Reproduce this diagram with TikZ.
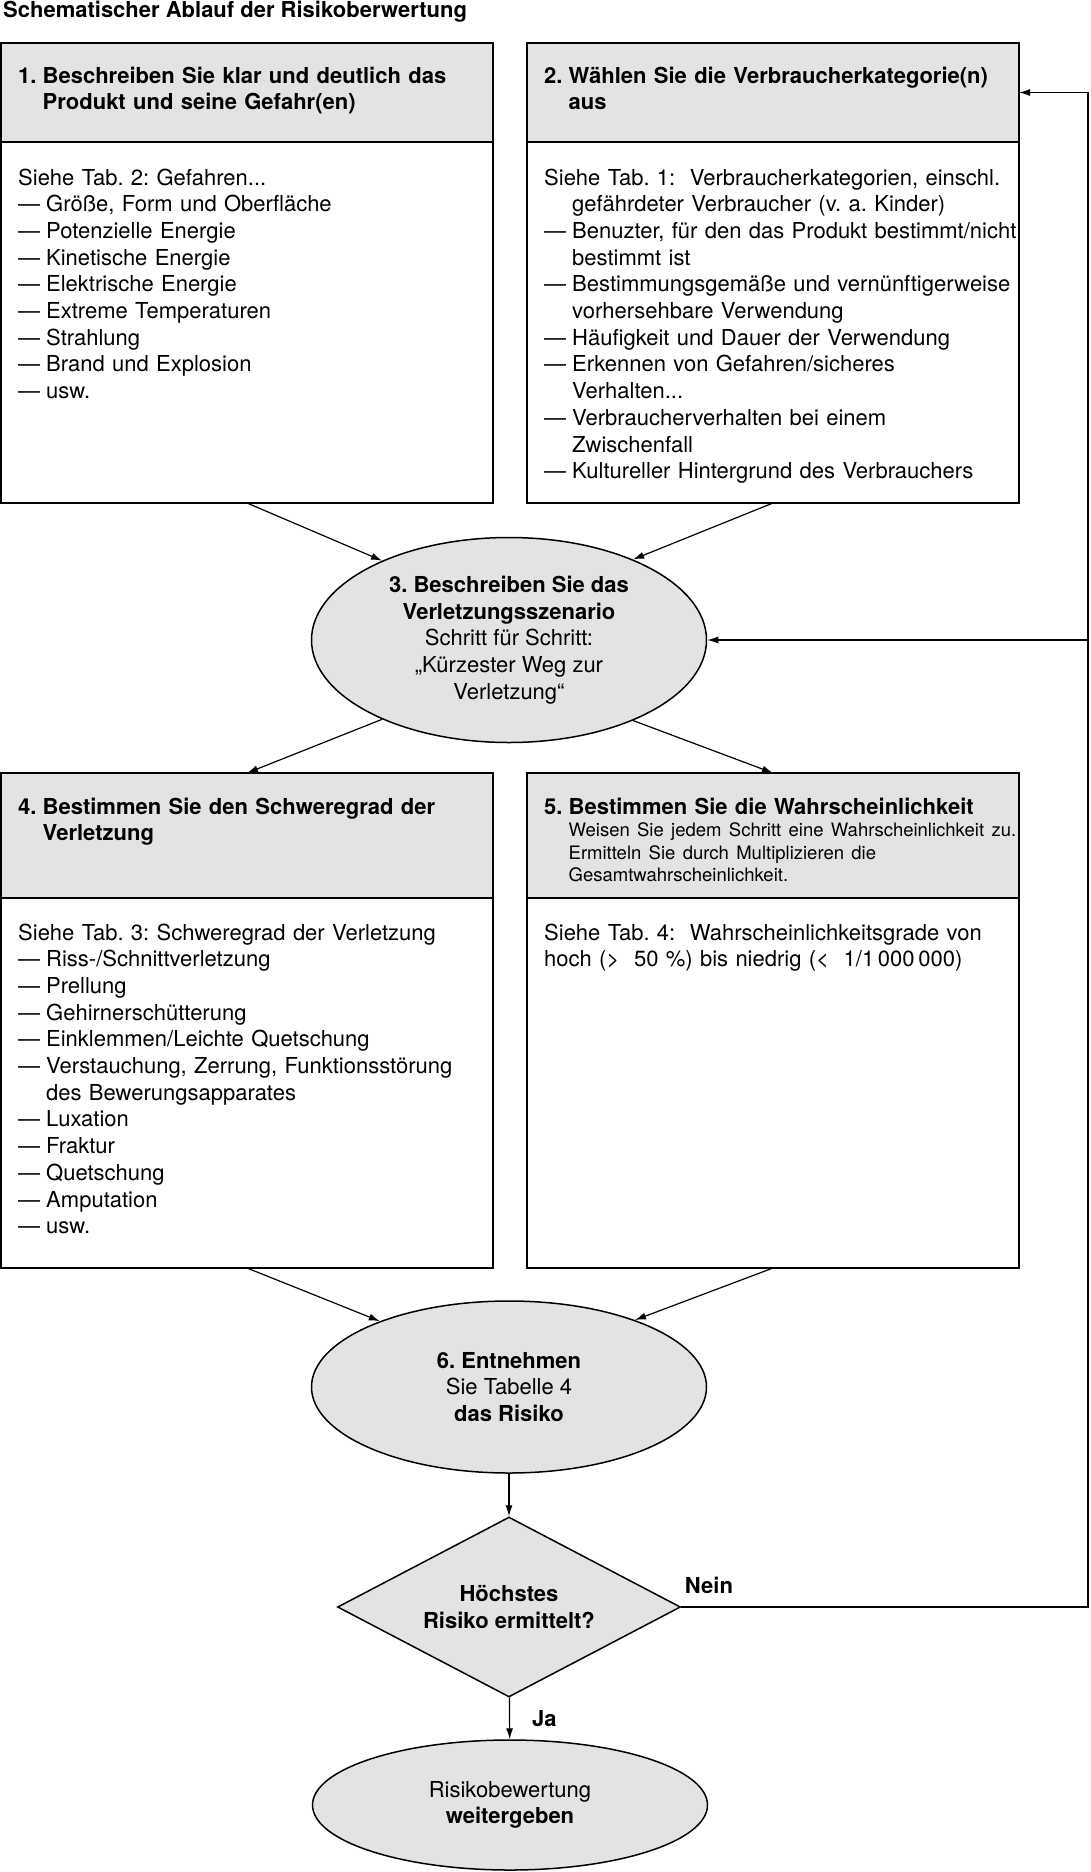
\documentclass[tikz,border=0pt]{standalone}
\usepackage{fontspec}
\setmainfont{TeX Gyre Heros}
\usetikzlibrary{shapes.geometric, arrows.meta, positioning}

\definecolor{panel}{gray}{0.89}
\newcommand{\dashitem}[1]{\par\hangindent=28pt\hangafter=1\makebox[28pt][l]{—}#1}
\newcommand{\numhead}[2]{\hangindent=24.5pt\hangafter=1\makebox[24.5pt][l]{#1}#2\par}

\begin{document}
\begin{tikzpicture}[
    x=1pt, y=-1pt,
    head/.style={rectangle, draw, line width=1.5pt, fill=panel, inner sep=0pt, outer sep=0pt, minimum width=492pt, anchor=north west},
    body/.style={rectangle, draw, line width=1.5pt, fill=white, inner sep=0pt, outer sep=0pt, minimum width=492pt},
    txt/.style={inner sep=0pt, anchor=base west, text width=480pt, align=left, font=\frenchspacing\fontsize{22}{26.7}\selectfont},
    phase/.style={ellipse, draw, line width=1.5pt, fill=panel, inner sep=0pt, minimum width=395pt, align=center, font=\frenchspacing\fontsize{22}{26.7}\selectfont},
    decision/.style={diamond, draw, line width=1.5pt, fill=panel, inner sep=0pt, aspect=1.9, minimum width=343pt, minimum height=180pt, align=center, font=\bfseries\fontsize{22}{26.7}\selectfont},
    lbl/.style={inner sep=0pt, font=\bfseries\fontsize{22}{26.7}\selectfont},
    line/.style={draw, line width=1.2pt, -{Latex[length=11pt, width=7pt]}}
]
\useasboundingbox (0,0) rectangle (1090,1872);

% Title
\node[lbl, anchor=base west] (title) at (3,17) {Schematischer Ablauf der Risikoberwertung};

% Steps 1 and 2
\node[head, minimum height=99pt] (h1) at (1,43) {};
\node[body, below=0pt of h1, minimum height=361pt] (b1) {};
\node[head, right=34pt of h1, minimum height=99pt] (h2) {};
\node[body, below=0pt of h2, minimum height=361pt] (b2) {};

\node[txt] (t1) at (18,83) {\bfseries\numhead{1.}{Beschreiben Sie klar und deutlich das\newline Produkt und seine Gefahr(en)}};
\node[txt] (l1) at (18,185) {Siehe Tab. 2: Gefahren...
    \dashitem{Größe, Form und Oberfläche}
    \dashitem{Potenzielle Energie}
    \dashitem{Kinetische Energie}
    \dashitem{Elektrische Energie}
    \dashitem{Extreme Temperaturen}
    \dashitem{Strahlung}
    \dashitem{Brand und Explosion}
    \dashitem{usw.}};

\node[txt] (t2) at (544,83) {\bfseries\numhead{2.}{Wählen Sie die Verbraucherkategorie(n)\newline aus}};
\node[txt] (l2) at (544,185) {\hangindent=28pt\hangafter=1 Siehe Tab. 1:~ Verbraucherkategorien, einschl.\newline gefährdeter Verbraucher (v. a. Kinder)
    \dashitem{Benuzter, für den das Produkt bestimmt/nicht\newline bestimmt ist}
    \dashitem{Bestimmungsgemäße und vernünftigerweise\newline vorhersehbare Verwendung}
    \dashitem{Häufigkeit und Dauer der Verwendung}
    \dashitem{Erkennen von Gefahren/sicheres\newline Verhalten...}
    \dashitem{Verbraucherverhalten bei einem\newline Zwischenfall}
    \dashitem{Kultureller Hintergrund des Verbrauchers}};

% Step 3
\node[phase, minimum height=205pt] (e3) at (509,640) {\textbf{3. Beschreiben Sie das}\\ \textbf{Verletzungsszenario}\\ Schritt für Schritt:\\ „Kürzester Weg zur\\ Verletzung“};

% Steps 4 and 5
\node[head, minimum height=125pt] (h4) at (1,773) {};
\node[body, below=0pt of h4, minimum height=370pt] (b4) {};
\node[head, right=34pt of h4, minimum height=125pt] (h5) {};
\node[body, below=0pt of h5, minimum height=370pt] (b5) {};

\node[txt] (t4) at (18,814) {\bfseries\numhead{4.}{Bestimmen Sie den Schweregrad der\newline Verletzung}};
\node[txt] (l4) at (18,940) {Siehe Tab. 3: Schweregrad der Verletzung
    \dashitem{Riss-/Schnittverletzung}
    \dashitem{Prellung}
    \dashitem{Gehirnerschütterung}
    \dashitem{Einklemmen/Leichte Quetschung}
    \dashitem{Verstauchung, Zerrung, Funktionsstörung\newline des Bewerungsapparates}
    \dashitem{Luxation}
    \dashitem{Fraktur}
    \dashitem{Quetschung}
    \dashitem{Amputation}
    \dashitem{usw.}};

\node[txt] (t5) at (544,814) {\bfseries\numhead{5.}{Bestimmen Sie die Wahrscheinlichkeit}
    {\mdseries\fontsize{18.5}{22.5}\selectfont\leftskip=24.5pt Weisen Sie jedem Schritt eine Wahrscheinlichkeit zu.\newline Ermitteln Sie durch Multiplizieren die\newline Gesamtwahrscheinlichkeit.\par}};
\node[txt] (l5) at (544,940) {Siehe Tab. 4:~ Wahrscheinlichkeitsgrade von\newline hoch (>~ 50~\%) bis niedrig (<~ 1/1\,000\,000)};

% Steps 6 and decision
\node[phase, minimum height=172pt] (e6) at (509,1387) {\textbf{6. Entnehmen}\\ Sie Tabelle 4\\ \textbf{das Risiko}};
\node[decision] (dec) at (509,1607) {Höchstes\\ Risiko ermittelt?};
\node[phase, minimum height=130pt] (fin) at (510,1805) {Risikobewertung\\ \textbf{weitergeben}};

% Connections
\draw[line] (b1.south) -- (e3.148);
\draw[line] (b2.south) -- (e3.33);
\draw[line] (e3.212) -- (h4.north);
\draw[line] (e3.-33) -- (h5.north);
\draw[line] (b4.south) -- (e6.153);
\draw[line] (b5.south) -- (e6.28);
\draw[line] (e6) -- (dec);
\draw[line] (dec) -- node[lbl, right=22pt] (ja) {Ja} (fin);

% Loop back
\coordinate (back) at (1088,1607);
\draw[line] (dec.east) -- node[lbl, pos=0, anchor=base west, xshift=3pt, yshift=14pt] (nein) {Nein} (back) |- (h2.east);
\draw[line] (back |- e3.east) -- (e3.east);

\end{tikzpicture}
\end{document}
